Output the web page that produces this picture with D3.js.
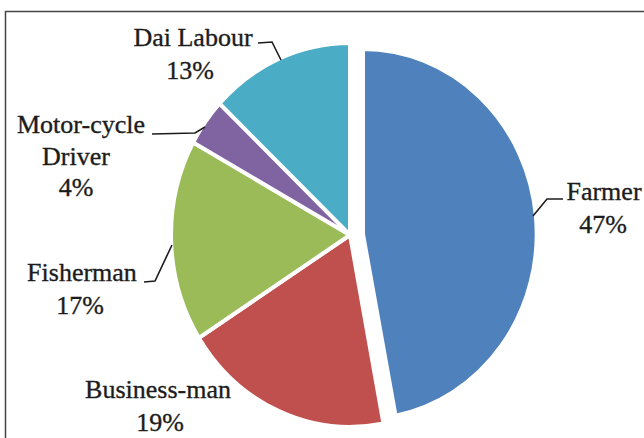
<!DOCTYPE html>
<html>
<head>
<meta charset="utf-8">
<script src="https://cdn.jsdelivr.net/npm/d3@7/dist/d3.min.js"></script>
<style>
  html, body { margin: 0; padding: 0; background: #fff; }
  svg { display: block; }
</style>
</head>
<body>
<svg id="chart" width="644" height="438"></svg>
<script>
// Occupation shares (percent), drawn clockwise from 12 o'clock
const categories = ["Farmer", "Business-man", "Fisherman", "Motor-cycle Driver", "Dai Labour"];
const shares = [47, 19, 17, 4, 13];
const labelLines = [["Farmer"], ["Business-man"], ["Fisherman"], ["Motor-cycle", "Driver"], ["Dai Labour"]];
const colors = ["#4F81BD", "#C0504D", "#9BBB59", "#8064A2", "#4BACC6"];

const FONT = "Liberation Serif";
const INK = "#1c1c1c";

const svg = d3.select("#chart");

// frame around the plot
svg.append("rect")
  .attr("x", 5.5).attr("y", 11.5)
  .attr("width", 700).attr("height", 500)
  .attr("fill", "none").attr("stroke", "#444").attr("stroke-width", 1.5);

const data = categories.map((c, i) => ({ name: c, value: shares[i], lines: labelLines[i], color: colors[i] }));

const pie = d3.pie().value(d => d.value).sort(null);
const arcs = pie(data);
const arc = d3.arc().innerRadius(0).outerRadius(1);

// pie body is slightly taller than wide; the farmer slice is pulled out
const body = { cx: 350, cy: 235, rx: 179, ry: 192 };
const exploded = { "Farmer": { cx: 363, cy: 234, rx: 174, ry: 185 } };

svg.append("g").selectAll("path")
  .data(arcs)
  .join("path")
  .attr("transform", d => {
    const g = exploded[d.data.name] || body;
    return `translate(${g.cx},${g.cy}) scale(${g.rx},${g.ry})`;
  })
  .attr("d", arc)
  .attr("fill", d => d.data.color)
  .attr("stroke", "#fff")
  .attr("stroke-width", 4)
  .attr("vector-effect", "non-scaling-stroke");

// label placement and leader lines
const layout = {
  "Farmer":             { x: 604, y: 200, dx: [0, -1], leader: [[563, 199], [547, 199], [533, 216]] },
  "Business-man":       { x: 158, y: 398, dx: [0, 2], leader: null },
  "Fisherman":          { x: 82,  y: 281, dx: [0, -2], leader: [[144, 282], [155, 281], [172, 245]] },
  "Motor-cycle Driver": { x: 81,  y: 133, dx: [0, -5, -5], leader: [[152, 134], [195, 133], [205, 127]] },
  "Dai Labour":         { x: 193, y: 46,  dx: [0, -3], leader: [[258, 43], [272, 42], [281, 60]] }
};

const line = d3.line();
const labels = svg.append("g");
data.forEach(d => {
  const L = layout[d.name];
  const rows = d.lines.concat([d.value + "%"]);
  let y = L.y;
  rows.forEach((t, i) => {
    if (i > 0) y += (d.lines.length === 1 && i === 1) ? 33 : (i === 1 ? 32 : 31);
    labels.append("text")
      .attr("x", L.x + (L.dx[i] || 0))
      .attr("y", y)
      .attr("text-anchor", "middle")
      .attr("font-family", FONT)
      .attr("font-size", 26)
      .attr("fill", INK)
      .attr("stroke", INK)
      .attr("stroke-width", 0.35)
      .text(t);
  });
  if (L.leader) {
    labels.append("path")
      .attr("d", line(L.leader))
      .attr("fill", "none")
      .attr("stroke", INK)
      .attr("stroke-width", 1.6);
  }
});
</script>
</body>
</html>
